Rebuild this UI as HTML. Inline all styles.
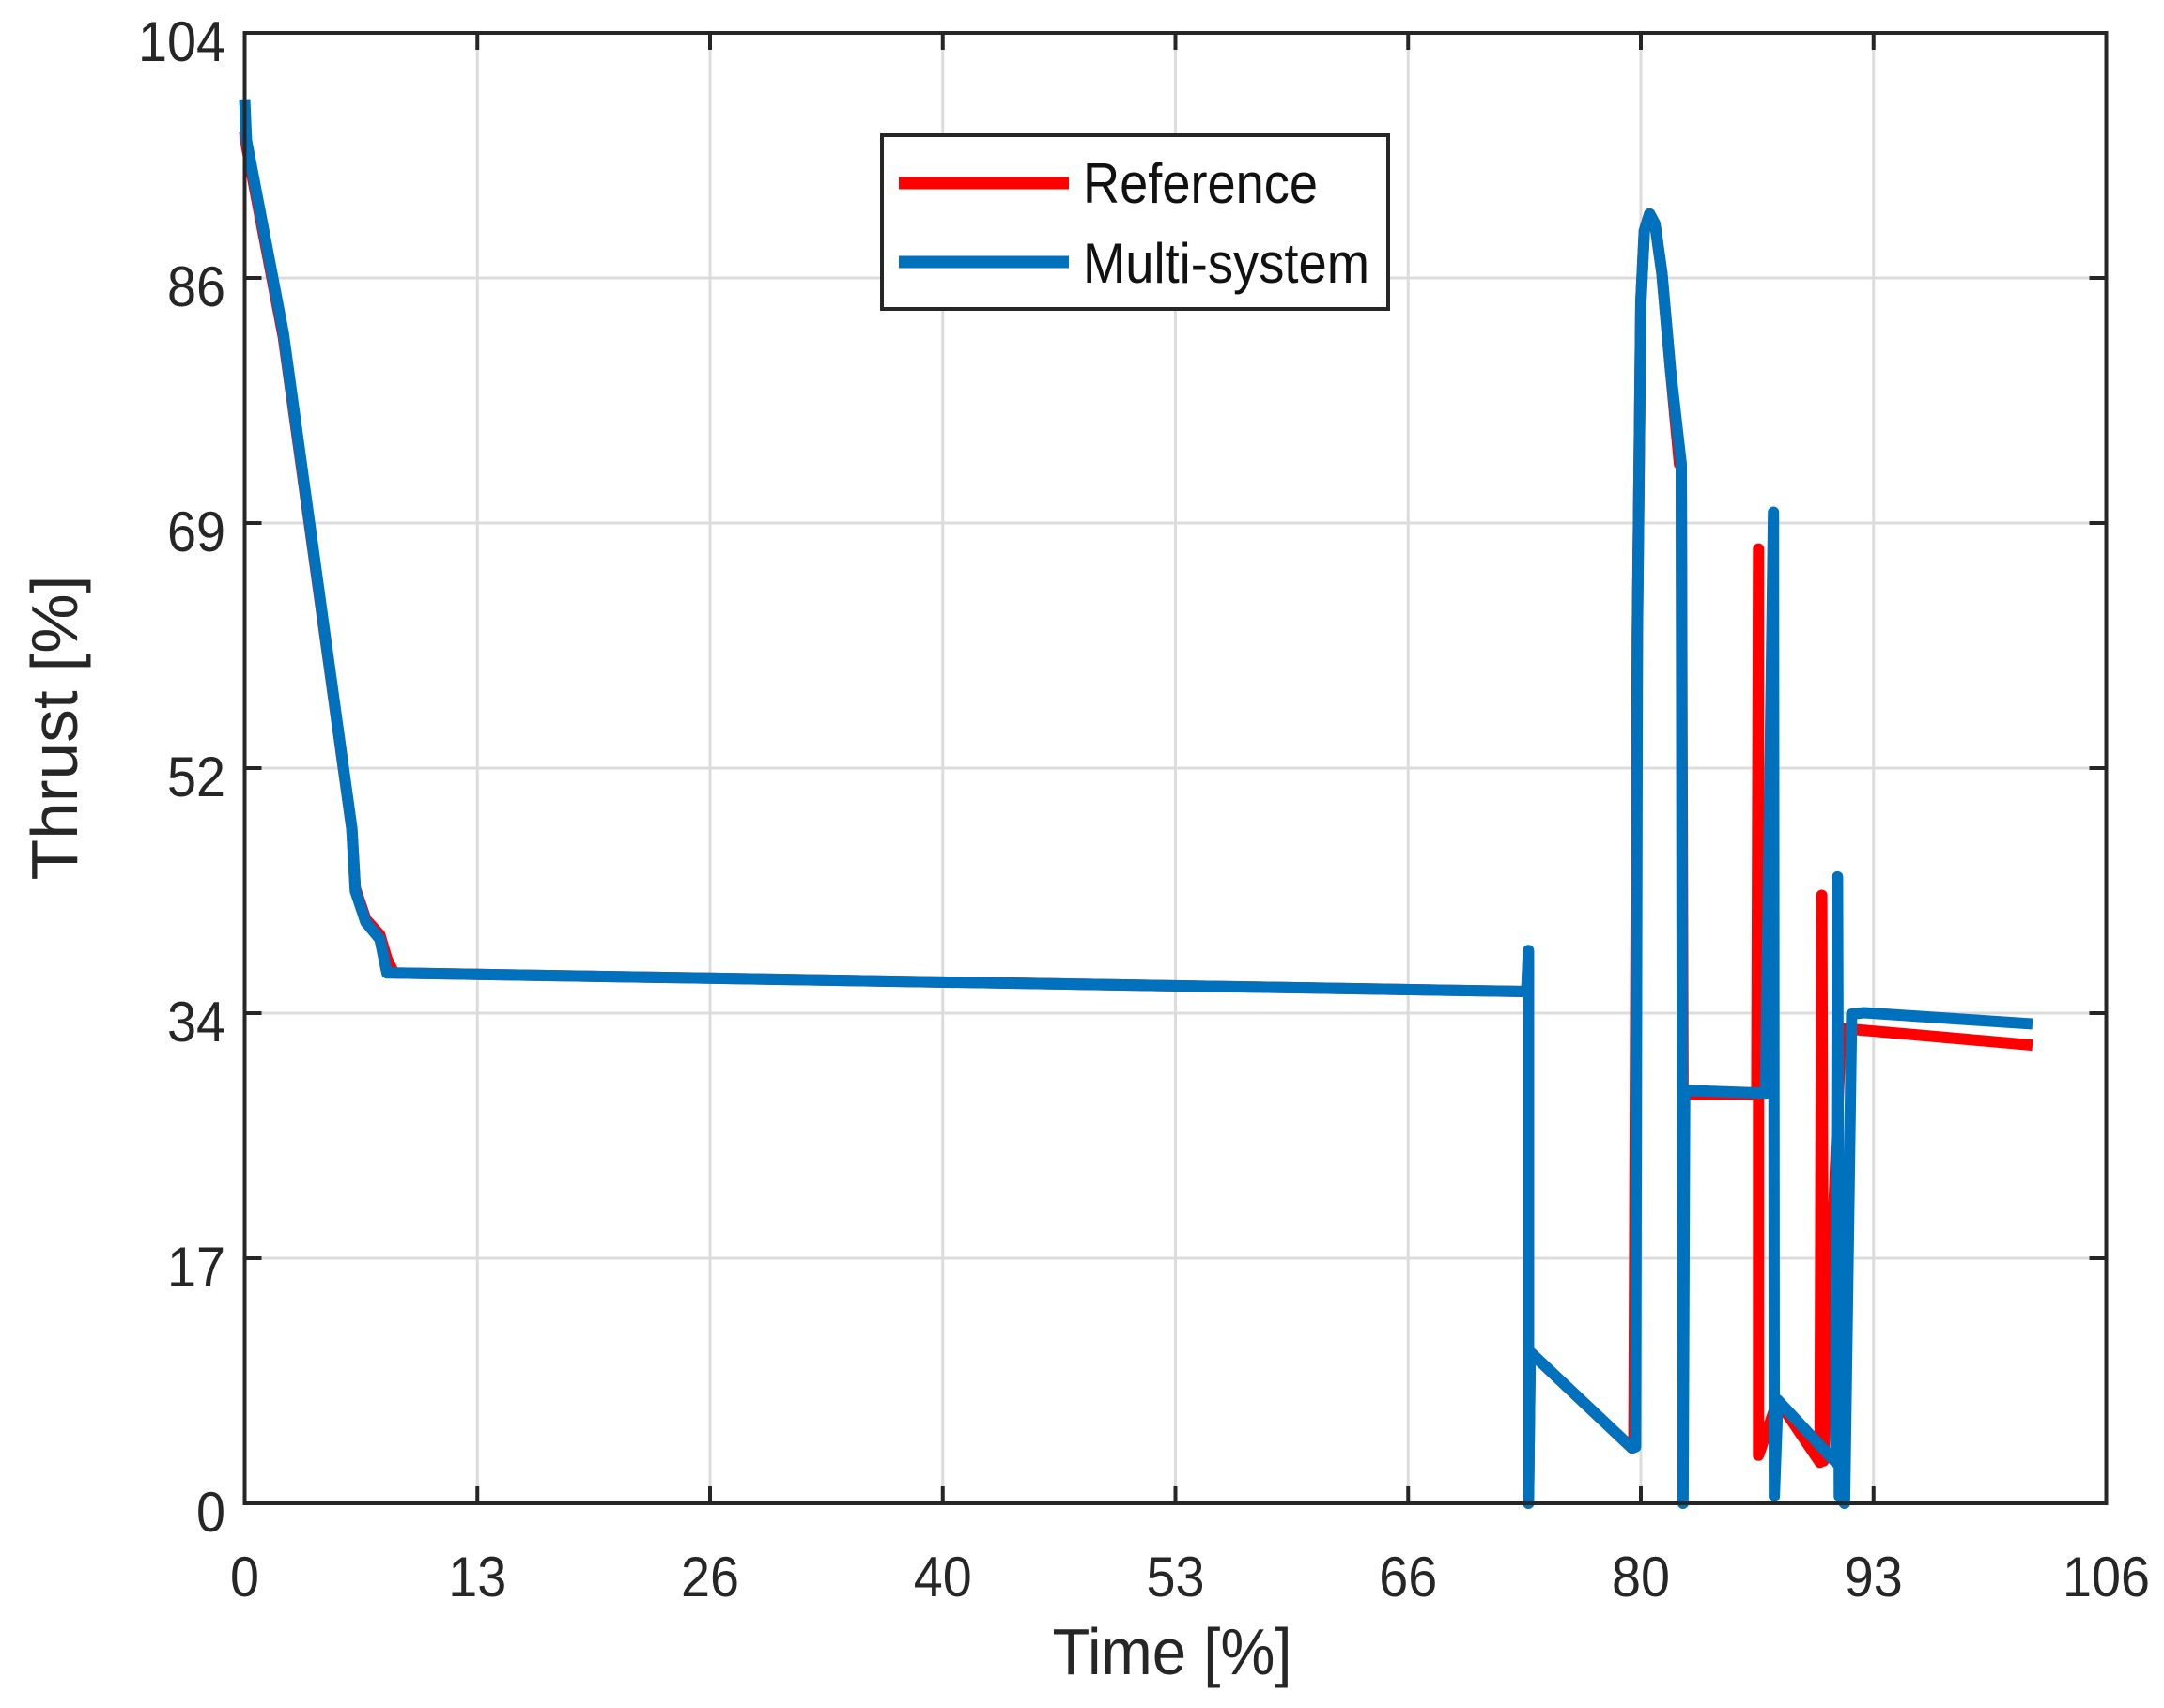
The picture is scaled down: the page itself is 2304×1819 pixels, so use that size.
<!DOCTYPE html>
<html><head><meta charset="utf-8"><style>
html,body{margin:0;padding:0;background:#fff;}
svg{display:block;font-family:"Liberation Sans",Arial,sans-serif;}
</style></head><body>
<svg id="chart" width="2304" height="1819" viewBox="0 0 2304 1819">
<rect x="0" y="0" width="2304" height="1819" fill="#fff"/>
<g id="grid"></g>
<g id="series"></g>
<rect x="260.5" y="35" width="1982" height="1566" fill="none" stroke="#262626" stroke-width="4"/>
<g id="ticks"></g>
<text x="1248" y="1783" font-size="70" fill="#262626" text-anchor="middle" textLength="255" lengthAdjust="spacingAndGlyphs">Time  [%]</text>
<text transform="translate(82,775) rotate(-90)" font-size="70" fill="#262626" text-anchor="middle" textLength="325" lengthAdjust="spacingAndGlyphs">Thrust [%]</text>
<g>
<rect x="939" y="144" width="539" height="185" fill="#fff" stroke="#262626" stroke-width="4"/>
<line x1="957" y1="195" x2="1138" y2="195" stroke="#ff0000" stroke-width="13"/>
<text x="1153" y="216" font-size="60" fill="#111" textLength="250" lengthAdjust="spacingAndGlyphs">Reference</text>
<line x1="957" y1="279" x2="1138" y2="279" stroke="#0072bd" stroke-width="13"/>
<text x="1153" y="301" font-size="60" fill="#111" textLength="305" lengthAdjust="spacingAndGlyphs">Multi-system</text>
</g>
</svg>
<script>
const xTickLabels = ["0","13","26","40","53","66","80","93","106"];
const yTickLabels = ["0","17","34","52","69","86","104"];
const refX = [0,0.1,2.2,6.1,6.3,6.9,7.7,8.1,8.5,72.6,73.0,73.1,73.1,73.2,79.0,79.1,79.3,79.5,79.7,80.0,80.3,80.7,81.2,81.7,81.8,81.9,82.0,86.1,86.2,86.2,87.3,89.7,89.8,89.9,90.9,101.8];
const refY = [97,96,82.5,47.7,43.5,41.3,40.2,38.5,37.5,36.2,36.2,39,0,10.7,3.9,4,62,85,90,91.2,90.5,87,80,73.5,73.5,29,28.9,28.9,67.5,3.4,7.3,2.9,43,3,33.6,32.4];
const multiX = [0,0.1,2.2,6.1,6.3,6.9,7.7,8.1,8.5,72.6,73.0,73.1,73.1,73.2,79.0,79.2,79.3,79.5,79.7,80.0,80.3,80.7,81.2,81.8,81.9,82.0,86.6,87.05,87.1,87.3,90.6,90.7,90.8,91.1,91.5,92.2,101.8];
const multiY = [99.3,96.4,82.8,47.7,43.3,41.1,39.9,37.5,37.5,36.2,36.2,39.1,0,10.7,3.9,4,61.3,85,90,91.2,90.5,87,80,73.5,0,29.2,29.0,70.1,0.5,7.3,2.9,44.3,0.5,0,34.6,34.7,33.9];
const X0=260.5, X1=2242.5, Y0=1601, Y1=35;
function sx(v){return X0+(v/106)*(X1-X0);}
function sy(v){return Y0-(v/104)*(Y0-Y1);}
const NS="http://www.w3.org/2000/svg";
const grid=document.getElementById('grid'), ticks=document.getElementById('ticks'), series=document.getElementById('series');
xTickLabels.forEach((lab,i)=>{
  const v=i*106/8, x=sx(v);
  if(i>0&&i<8){
    const g=document.createElementNS(NS,'line');
    
    
    g.setAttribute('x1',x);g.setAttribute('x2',x);g.setAttribute('y1',Y1);g.setAttribute('y2',Y0);
    g.setAttribute('stroke','#dcdcdc');g.setAttribute('stroke-width','3');grid.appendChild(g);
    const t=document.createElementNS(NS,'line');
    
    
    t.setAttribute('x1',x);t.setAttribute('x2',x);t.setAttribute('y1',Y0);t.setAttribute('y2',Y0-18);
    t.setAttribute('stroke','#262626');t.setAttribute('stroke-width','4');ticks.appendChild(t);
    const t2=document.createElementNS(NS,'line');
    
    
    t2.setAttribute('x1',x);t2.setAttribute('x2',x);t2.setAttribute('y1',Y1);t2.setAttribute('y2',Y1+18);
    t2.setAttribute('stroke','#262626');t2.setAttribute('stroke-width','4');ticks.appendChild(t2);
  }
  const tx=document.createElementNS(NS,'text');
  
  
  tx.setAttribute('x',x);tx.setAttribute('y',1700);tx.setAttribute('font-size','60');
  tx.setAttribute('text-anchor','middle');tx.setAttribute('fill','#262626');
  tx.setAttribute('textLength',String(lab.length*31));tx.setAttribute('lengthAdjust','spacingAndGlyphs');
  tx.textContent=lab;ticks.appendChild(tx);
});
yTickLabels.forEach((lab,i)=>{
  const v=i*104/6, y=sy(v);
  if(i>0&&i<6){
    const g=document.createElementNS(NS,'line');
    
    
    g.setAttribute('x1',X0);g.setAttribute('x2',X1);g.setAttribute('y1',y);g.setAttribute('y2',y);
    g.setAttribute('stroke','#dcdcdc');g.setAttribute('stroke-width','3');grid.appendChild(g);
    const t=document.createElementNS(NS,'line');
    
    
    t.setAttribute('x1',X0);t.setAttribute('x2',X0+18);t.setAttribute('y1',y);t.setAttribute('y2',y);
    t.setAttribute('stroke','#262626');t.setAttribute('stroke-width','4');ticks.appendChild(t);
    const t2=document.createElementNS(NS,'line');
    
    
    t2.setAttribute('x1',X1);t2.setAttribute('x2',X1-18);t2.setAttribute('y1',y);t2.setAttribute('y2',y);
    t2.setAttribute('stroke','#262626');t2.setAttribute('stroke-width','4');ticks.appendChild(t2);
  }
  const tx=document.createElementNS(NS,'text');
  
  
  tx.setAttribute('x',240);tx.setAttribute('y',y+30);tx.setAttribute('font-size','60');
  tx.setAttribute('text-anchor','end');tx.setAttribute('fill','#262626');
  tx.setAttribute('textLength',String(lab.length*31));tx.setAttribute('lengthAdjust','spacingAndGlyphs');
  tx.textContent=lab;ticks.appendChild(tx);
});
function drawLine(xs,ys,color,w,name){
  const p=document.createElementNS(NS,'polyline');
  
  
  p.setAttribute('points',xs.map((x,i)=>sx(x).toFixed(1)+','+sy(ys[i]).toFixed(1)).join(' '));
  p.setAttribute('fill','none');p.setAttribute('stroke',color);p.setAttribute('stroke-width',w);
  p.setAttribute('stroke-linejoin','round');
  series.appendChild(p);
}
drawLine(refX,refY,'#ff0000',12,'reference-line');
drawLine(multiX,multiY,'#0072bd',12,'multi-system-line');
</script>
</body></html>
